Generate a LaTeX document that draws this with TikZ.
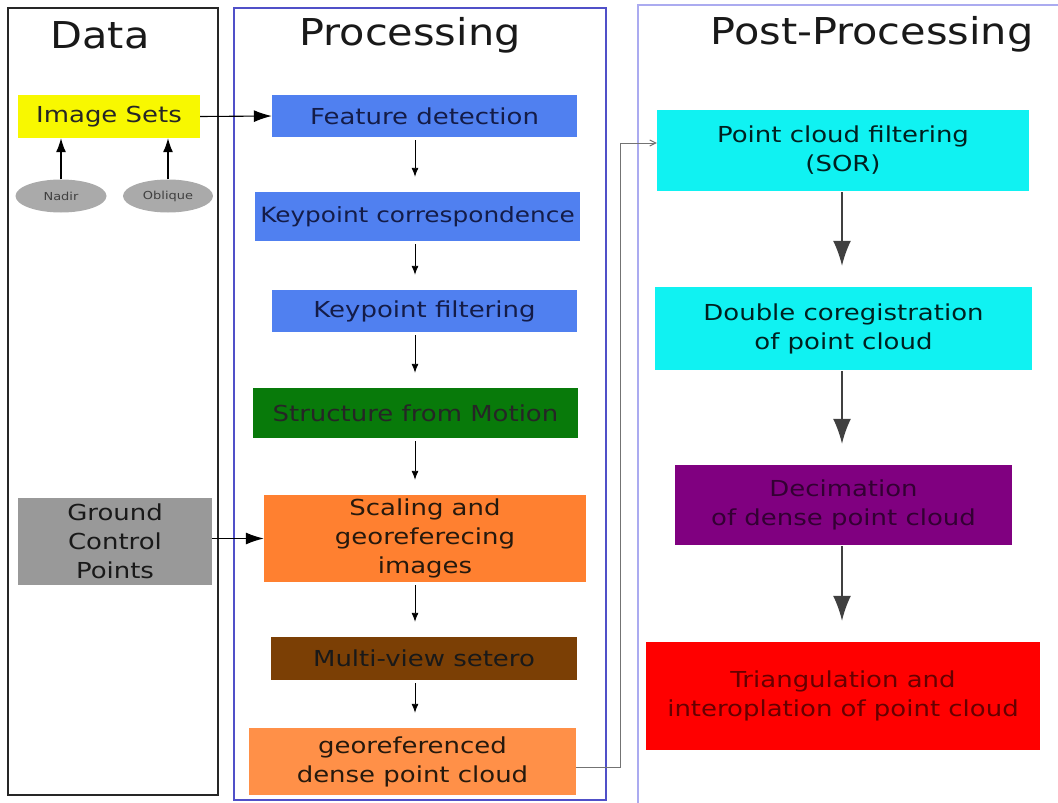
\documentclass[tikz,border=0pt]{standalone}
\usepackage{fontspec}
\setmainfont{DejaVu Sans}[FakeStretch=1.18]
\newfontfamily\titlefont{DejaVu Sans}[FakeStretch=1.12]
\usetikzlibrary{arrows.meta,shapes.geometric}
\definecolor{procblue}{HTML}{5050C8}
\definecolor{postblue}{HTML}{ABABF0}
\definecolor{boxblue}{HTML}{5080F0}
\definecolor{txtblue}{HTML}{141C48}
\definecolor{sfmgreen}{HTML}{087A0A}
\definecolor{orangeA}{HTML}{FF8030}
\definecolor{orangeB}{HTML}{FF9048}
\definecolor{brownA}{HTML}{7B3F05}
\definecolor{cyanA}{HTML}{10F2F2}
\definecolor{purpA}{HTML}{800080}
\definecolor{yellowA}{HTML}{F8F800}
\definecolor{grayA}{HTML}{999999}
\definecolor{grayB}{HTML}{AAAAAA}
\tikzset{
  panel/.style={line width=2.4pt},
  stepbox/.style={rectangle, inner sep=0pt, align=center, font=\fontsize{22}{29}\selectfont},
  title/.style={anchor=base, font=\titlefont\fontsize{37}{40}\selectfont, text=black!90},
  oval/.style={ellipse, fill=grayB, inner sep=0pt, font=\fontsize{11}{12}\selectfont, text=black!75},
  smallarr/.style={-{Latex[length=9pt,width=7pt]}, line width=0.9pt, shorten <=3pt, shorten >=15pt},
  bigarr/.style={-{Latex[length=25pt,width=18pt]}, line width=1.7pt, draw=black!75, shorten <=1pt, shorten >=21pt},
  sidearr/.style={-{Latex[length=18pt,width=12pt]}, line width=1.1pt},
}
\begin{document}
\begin{tikzpicture}[x=1pt,y=-1pt]
\useasboundingbox (0,0) rectangle (1058,803);
% panels
\draw[panel, black!85] (8,8) rectangle (218,795);
\draw[panel, procblue] (234,8) rectangle (606,800);
\draw[panel, postblue] (638,5) rectangle (1070,810);
% titles
\node[title] (tdata) at (100,48) {Data};
\node[title] (tproc) at (410,45) {Processing};
\node[title] (tpost) at (872,44) {Post-Processing};
% data column
\node[stepbox, fill=yellowA, text=black!85, minimum width=182pt, minimum height=43pt] (img) at (109,116.5) {Image Sets};
\node[oval, minimum width=91pt, minimum height=33pt] (nadir) at (61,196) {Nadir};
\node[oval, minimum width=90pt, minimum height=33pt] (obl) at (168,196) {Oblique};
\node[stepbox, fill=grayA, text=black!90, minimum width=194pt, minimum height=87pt] (gcp) at (115,541.5) {Ground\\Control\\Points};
% processing column
\node[stepbox, fill=boxblue, text=txtblue, minimum width=305pt, minimum height=42pt] (fd) at (424.5,116) {Feature detection};
\node[stepbox, fill=boxblue, text=txtblue, minimum width=325pt, minimum height=49pt, font=\fontsize{21}{29}\selectfont] (kc) at (417.5,216.5) {Keypoint correspondence};
\node[stepbox, fill=boxblue, text=txtblue, minimum width=305pt, minimum height=42pt] (kf) at (424.5,311) {Keypoint filtering};
\node[stepbox, fill=sfmgreen, text=black!85, minimum width=325pt, minimum height=50pt] (sfm) at (415.5,413) {Structure from Motion};
\node[stepbox, fill=orangeA, text=black!80!brown, minimum width=322pt, minimum height=87pt] (scale) at (425,538.5) {Scaling and\\georeferecing\\images};
\node[stepbox, fill=brownA, text=black!90, minimum width=306pt, minimum height=43pt] (mvs) at (424,658.5) {Multi-view setero};
\node[stepbox, fill=orangeB, text=black!80!brown, minimum width=327pt, minimum height=67pt] (dense) at (412.5,761.5) {georeferenced\\dense point cloud};
% post-processing column
\node[stepbox, fill=cyanA, text=black!75!teal, minimum width=372pt, minimum height=81pt] (sor) at (843,150.5) {Point cloud filtering\\(SOR)};
\node[stepbox, fill=cyanA, text=black!75!teal, minimum width=377pt, minimum height=83pt] (dcr) at (843.5,328.5) {Double coregistration\\of point cloud};
\node[stepbox, fill=purpA, text=black!60!purpA, minimum width=337pt, minimum height=80pt] (dec) at (843.5,505) {Decimation\\of dense point cloud};
\node[stepbox, fill=red, text=black!60!red, minimum width=394pt, minimum height=108pt] (tri) at (843,696) {Triangulation and\\interoplation of point cloud};
% helper coordinates
\coordinate (ax) at (415,0);
\coordinate (px) at (842,0);
\coordinate (bend) at (620,0);
\coordinate (dout) at ([yshift=-5.5pt]dense.east);
\coordinate (sin) at ([yshift=7.5pt]sor.west);
% data arrows
\draw[-{Latex[length=14pt,width=10pt]}, line width=1.2pt] (nadir.north) -- (img.south -| nadir.north);
\draw[-{Latex[length=14pt,width=10pt]}, line width=1.2pt] (obl.north) -- (img.south -| obl.north);
\draw[sidearr] (img.east) -- (fd.west);
\draw[sidearr] (gcp.east |- scale.west) -- (scale.west);
% processing arrows
\draw[smallarr] (fd.south -| ax) -- (kc.north -| ax);
\draw[smallarr] (kc.south -| ax) -- (kf.north -| ax);
\draw[smallarr] (kf.south -| ax) -- (sfm.north -| ax);
\draw[smallarr] (sfm.south -| ax) -- (scale.north -| ax);
\draw[smallarr] (scale.south -| ax) -- (mvs.north -| ax);
\draw[smallarr] (mvs.south -| ax) -- (dense.north -| ax);
% connector to post-processing
\draw[black!55, line width=1pt, -{Straight Barb[length=6pt,width=6pt]}]
  (dout) -| (bend |- sin) -- (sin);
% post-processing arrows
\draw[bigarr] (sor.south -| px) -- (dcr.north -| px);
\draw[bigarr] (dcr.south -| px) -- (dec.north -| px);
\draw[bigarr] (dec.south -| px) -- (tri.north -| px);
\end{tikzpicture}
\end{document}
